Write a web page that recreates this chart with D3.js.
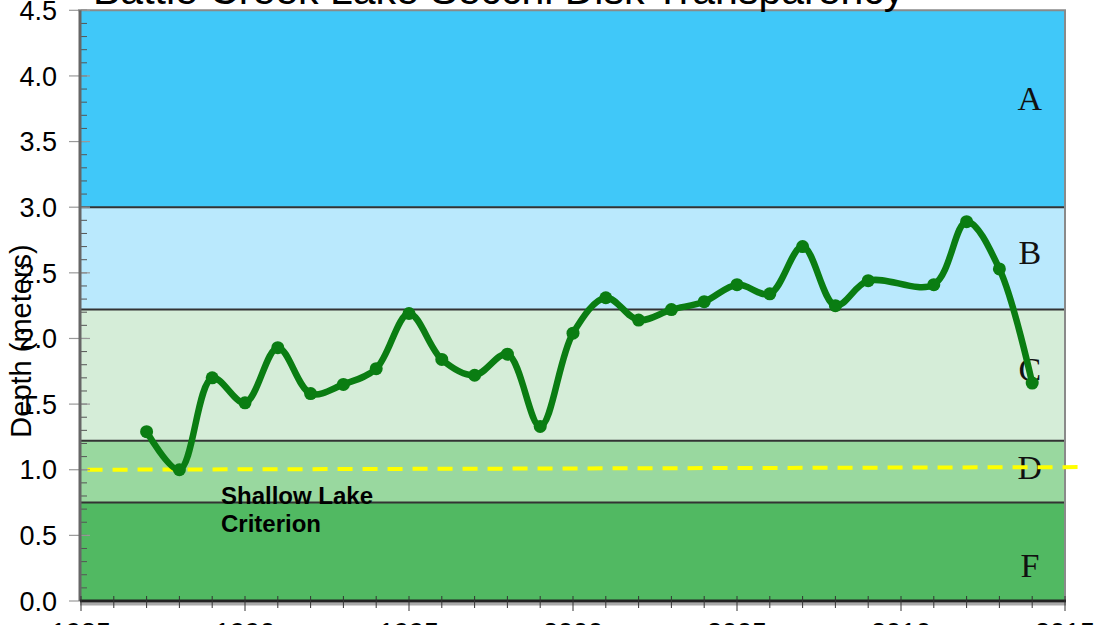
<!DOCTYPE html>
<html>
<head>
<meta charset="utf-8">
<style>
body { margin: 0; background: #fff; overflow: hidden; }
text { font-family: "Liberation Sans", Arial, sans-serif; }
</style>
</head>
<body>
<script src="https://cdn.jsdelivr.net/npm/d3@7/dist/d3.min.js"></script>
<script>

// data
var years = [1987, 1988, 1989, 1990, 1991, 1992, 1993, 1994, 1995, 1996, 1997, 1998, 1999, 2000,
             2001, 2002, 2003, 2004, 2005, 2006, 2007, 2008, 2009, 2011, 2012, 2013, 2014];
var secchi = [1.29, 1.00, 1.70, 1.51, 1.93, 1.58, 1.65, 1.77, 2.19, 1.84, 1.72, 1.88, 1.33, 2.04,
              2.31, 2.14, 2.22, 2.28, 2.41, 2.34, 2.70, 2.25, 2.44, 2.41, 2.89, 2.53, 1.66];

var gradeNames = ["A", "B", "C", "D", "F"];
var gradeTop = [4.5, 3.0, 2.22, 1.22, 0.75];
var gradeBottom = [3.0, 2.22, 1.22, 0.75, 0];
var gradeColors = ["#40c8f9", "#bae9fd", "#d5edd8", "#99d89f", "#51b962"];
var gradeLabelY = [3.83, 2.66, 1.77, 1.02, 0.27];

var criterionX = [1985.2, 2015.4];
var criterionY = [1.0, 1.02];

var yTicks = [0, 0.5, 1.0, 1.5, 2.0, 2.5, 3.0, 3.5, 4.0, 4.5];
var xTicks = [1985, 1990, 1995, 2000, 2005, 2010, 2015];

var width = 1110, height = 625;
var margin = {left: 81, right: 45, top: 10.3, bottom: 24};

var svg = d3.select("body").append("svg")
    .attr("width", width)
    .attr("height", height);

var x = d3.scaleLinear().domain([1985, 2015]).range([margin.left, width - margin.right]);
var y = d3.scaleLinear().domain([0, 4.5]).range([height - margin.bottom, margin.top]);

// grade bands
svg.append("g").selectAll("rect")
    .data(gradeNames)
    .enter().append("rect")
    .attr("x", x(1985))
    .attr("width", x(2015) - x(1985))
    .attr("y", function(d, i) { return y(gradeTop[i]); })
    .attr("height", function(d, i) { return y(gradeBottom[i]) - y(gradeTop[i]); })
    .style("fill", function(d, i) { return gradeColors[i]; });

// band borders
svg.append("g").selectAll("line")
    .data(gradeBottom.slice(0, 4))
    .enter().append("line")
    .attr("x1", x(1985)).attr("x2", x(2015))
    .attr("y1", function(d) { return y(d); })
    .attr("y2", function(d) { return y(d); })
    .style("stroke", "#333")
    .style("stroke-width", 2);

// frame top / right
svg.append("path")
    .attr("d", "M" + (x(1985) - 3) + "," + y(4.5) + "H" + x(2015) + "V" + y(0))
    .style("fill", "none")
    .style("stroke", "#8a8a8a")
    .style("stroke-width", 2);

// grade letters
svg.append("g").selectAll("text")
    .data(gradeNames)
    .enter().append("text")
    .attr("x", x(2013.93))
    .attr("y", function(d, i) { return y(gradeLabelY[i]); })
    .attr("dy", "0.35em")
    .attr("text-anchor", "middle")
    .style("font-family", "'Liberation Serif', 'Times New Roman', serif")
    .style("font-size", "34px")
    .style("fill", "#111")
    .text(function(d) { return d; });

// shallow lake criterion
svg.append("line")
    .attr("x1", x(criterionX[0])).attr("y1", y(criterionY[0]))
    .attr("x2", x(criterionX[1])).attr("y2", y(criterionY[1]))
    .style("stroke", "#ffff00")
    .style("stroke-width", 4)
    .style("stroke-dasharray", "15,10");

svg.append("text")
    .attr("x", 221).attr("y", 504)
    .style("font-size", "24px")
    .style("font-weight", "bold")
    .style("fill", "#000")
    .text("Shallow Lake");
svg.append("text")
    .attr("x", 221).attr("y", 532)
    .style("font-size", "24px")
    .style("font-weight", "bold")
    .style("fill", "#000")
    .text("Criterion");

// y axis: minor ticks inside, major ticks across
var yMinor = d3.range(0, 46).map(function(i) { return i / 10; });
svg.append("g").selectAll("line")
    .data(yMinor)
    .enter().append("line")
    .attr("x1", x(1985)).attr("x2", x(1985) + 6)
    .attr("y1", function(d) { return y(d); })
    .attr("y2", function(d) { return y(d); })
    .style("stroke", "#555")
    .style("stroke-width", 1);

svg.append("g").selectAll("line")
    .data(yTicks)
    .enter().append("line")
    .attr("x1", x(1985) - 12).attr("x2", x(1985) + 9)
    .attr("y1", function(d) { return y(d); })
    .attr("y2", function(d) { return y(d); })
    .style("stroke", "#999")
    .style("stroke-width", 1.2);

svg.append("g").selectAll("text")
    .data(yTicks)
    .enter().append("text")
    .attr("x", 57)
    .attr("y", function(d) { return y(d); })
    .attr("dy", "0.36em")
    .attr("text-anchor", "end")
    .style("font-size", "27px")
    .style("fill", "#000")
    .text(function(d) { return d3.format(".1f")(d); });

svg.append("line")
    .attr("x1", x(1985) - 1).attr("x2", x(1985) - 1)
    .attr("y1", y(4.5)).attr("y2", y(0))
    .style("stroke", "#666")
    .style("stroke-width", 3);

// x axis
svg.append("line")
    .attr("x1", x(1985) - 1).attr("x2", x(2015) + 1)
    .attr("y1", y(0) + 3).attr("y2", y(0) + 3)
    .style("stroke", "#aaa")
    .style("stroke-width", 3);
svg.append("line")
    .attr("x1", x(1985) - 1).attr("x2", x(2015) + 1)
    .attr("y1", y(0)).attr("y2", y(0))
    .style("stroke", "#222")
    .style("stroke-width", 3);

var xMinor = d3.range(1985, 2016);
svg.append("g").selectAll("line")
    .data(xMinor)
    .enter().append("line")
    .attr("x1", function(d) { return x(d); })
    .attr("x2", function(d) { return x(d); })
    .attr("y1", y(0) - 5)
    .attr("y2", function(d) { return y(0) + (d % 5 == 0 ? 10 : 7); })
    .style("stroke", "#333")
    .style("stroke-width", 1);

svg.append("g").selectAll("text")
    .data(xTicks)
    .enter().append("text")
    .attr("x", function(d) { return x(d); })
    .attr("y", 642)
    .attr("text-anchor", "middle")
    .style("font-size", "27px")
    .style("fill", "#000")
    .text(function(d) { return d; });

// axis title
svg.append("text")
    .attr("transform", "translate(31," + 341 + ") rotate(-90)")
    .attr("text-anchor", "middle")
    .style("font-size", "29px")
    .style("fill", "#000")
    .text("Depth (meters)");

// chart title
svg.append("text")
    .attr("x", 93)
    .attr("y", 4)
    .style("font-size", "41px")
    .style("fill", "#000")
    .text("Battle Creek Lake Secchi Disk Transparency");

// data line
var line = d3.line()
    .x(function(d, i) { return x(years[i]); })
    .y(function(d) { return y(d); })
    .curve(d3.curveCatmullRom.alpha(0.5));

svg.append("path")
    .datum(secchi)
    .attr("d", line)
    .style("fill", "none")
    .style("stroke", "#0a7d12")
    .style("stroke-width", 6.5)
    .style("stroke-linejoin", "round");

svg.append("g").selectAll("circle")
    .data(secchi)
    .enter().append("circle")
    .attr("cx", function(d, i) { return x(years[i]); })
    .attr("cy", function(d) { return y(d); })
    .attr("r", 6.5)
    .style("fill", "#0a7d12");

</script>
</body>
</html>
